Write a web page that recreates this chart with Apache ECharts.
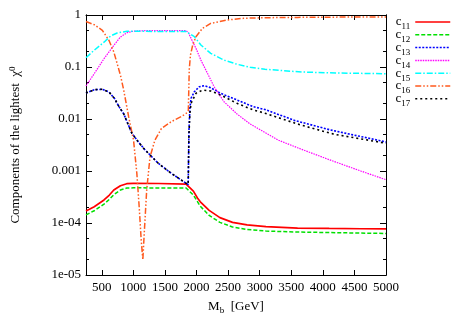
<!DOCTYPE html>
<html><head><meta charset="utf-8">
<script src="https://cdn.jsdelivr.net/npm/echarts@6/dist/echarts.min.js"></script>
<style>html,body{margin:0;padding:0;background:#fff}#c{width:467px;height:327px}</style>
</head><body><div id="c"></div>
<script>
// ---------- data ----------
const seriesNames = ['c11','c12','c13','c14','c15','c16','c17'];
const xTicks = [500,1000,1500,2000,2500,3000,3500,4000,4500,5000];
const yTickValues = [1e-5,1e-4,1e-3,1e-2,1e-1,1];
const yTickLabels = ['1e-05','1e-04','0.001','0.01','0.1','1'];
const yMinorTicks = [2e-5,5e-5,2e-4,5e-4,2e-3,5e-3,2e-2,5e-2,0.2,0.5];

const c11 = [[250,1.7e-4],[380,2.06e-4],[535,2.77e-4],[620,3.45e-4],[690,4.3e-4],[795,5.2e-4],[895,5.7e-4],[1000,5.8e-4],[1400,5.75e-4],[1835,5.6e-4],[1865,5.5e-4],[1950,4.1e-4],[2017,3.0e-4],[2060,2.55e-4],[2200,1.75e-4],[2370,1.27e-4],[2570,1.03e-4],[2800,9.2e-5],[3100,8.5e-5],[3600,8.0e-5],[4100,7.85e-5],[4600,7.75e-5],[5000,7.7e-5]];
const c12 = [[250,1.43e-4],[380,1.72e-4],[535,2.3e-4],[620,2.85e-4],[690,3.5e-4],[795,4.3e-4],[895,4.7e-4],[1000,4.75e-4],[1835,4.7e-4],[1865,4.65e-4],[1950,3.45e-4],[2017,2.55e-4],[2060,2.1e-4],[2200,1.4e-4],[2370,1.03e-4],[2570,8.4e-5],[2800,7.5e-5],[3100,7.0e-5],[3600,6.7e-5],[4100,6.55e-5],[4600,6.4e-5],[5000,6.3e-5]];
const c13 = [[250,0.0316],[380,0.0366],[509,0.0373],[613,0.0331],[700,0.025],[770,0.0175],[848,0.0125],[977,0.0053],[1080,0.0036],[1186,0.00254],[1393,1.41e-3],[1601,9.0e-4],[1835,5.8e-4],[1868,5.5e-4],[1880,0.006],[1895,0.016],[1913,0.025],[1966,0.0335],[2044,0.0418],[2122,0.0437],[2225,0.040],[2381,0.0312],[2641,0.0232],[2902,0.0172],[3083,0.0152],[3563,0.0093],[4110,0.0062],[4890,0.00386],[5000,0.0036]];
const c14 = [[250,0.0431],[380,0.0743],[535,0.1445],[691,0.261],[796,0.378],[899,0.457],[1003,0.49],[1200,0.50],[1835,0.50],[1870,0.46],[1913,0.356],[1991,0.229],[2069,0.136],[2173,0.0757],[2278,0.0418],[2434,0.0215],[2641,0.0125],[2849,0.0080],[3083,0.0055],[3300,0.0039],[3600,0.0028],[4100,0.00165],[4600,0.00100],[5000,0.00068]];
const c15 = [[250,0.151],[380,0.21],[535,0.30],[640,0.395],[743,0.45],[899,0.486],[1200,0.485],[1835,0.48],[1862,0.477],[1966,0.383],[2069,0.265],[2225,0.183],[2434,0.136],[2641,0.113],[2849,0.0986],[3083,0.0903],[3680,0.080],[4200,0.0767],[5000,0.0743]];
const c16 = [[250,0.75],[380,0.65],[509,0.508],[613,0.326],[691,0.194],[796,0.069],[847,0.036],[925,0.0111],[1003,0.0039],[1055,9.0e-4],[1092,2.06e-4],[1124,4.7e-5],[1150,1.95e-5],[1175,7.3e-5],[1211,4.3e-4],[1264,1.88e-3],[1342,3.95e-3],[1445,6.6e-3],[1601,8.9e-3],[1757,0.0111],[1851,0.0132],[1870,0.0145],[1885,0.09],[1904,0.17],[1940,0.265],[1991,0.383],[2095,0.555],[2225,0.69],[2486,0.80],[2746,0.865],[3083,0.887],[3600,0.90],[4200,0.91],[5000,0.916]];
const c17 = [[250,0.0316],[380,0.0366],[509,0.0373],[613,0.0331],[700,0.025],[770,0.0175],[848,0.0125],[977,0.0053],[1080,0.0036],[1186,0.00254],[1393,1.41e-3],[1601,9.0e-4],[1835,5.8e-4],[1868,5.5e-4],[1880,0.005],[1895,0.013],[1913,0.020],[1991,0.0312],[2095,0.036],[2225,0.0345],[2381,0.029],[2641,0.020],[2902,0.0149],[3083,0.0129],[3630,0.0078],[4175,0.0051],[4950,0.0035],[5000,0.0034]];

const seriesData = [c11,c12,c13,c14,c15,c16,c17];
const colors = ['#ff0000','#00e000','#0000ff','#ff00ff','#00ffff','#ff5a1e','#000000'];
const dashes = ['solid',[4,2],[2,1.5],[1.5,1],[6,2,1.5,2],[6,2,1.5,2,1.5,2],[2,3]];
const widths = [1.7,1.5,1.6,1.2,1.5,1.5,1.6];

// ---------- chart ----------
const FONT = 'Liberation Serif';
const chart = echarts.init(document.getElementById('c'), null, {renderer:'canvas'});
const axisLine = {show:true, lineStyle:{color:'#000', width:1}};
const tickStyle = {color:'#000', width:1};

function yAxisDef(pos, ticks, len, withLabels){
  return {
    type:'log', logBase:10, min:1e-5, max:1, position:pos,
    axisLine: withLabels!==null ? axisLine : {show:false},
    axisTick:{show:true, inside:true, length:len, customValues:ticks, lineStyle:tickStyle},
    axisLabel: withLabels ? {show:true, margin:5, color:'#000', fontFamily:FONT, fontSize:13,
      formatter: v => yTickLabels[Math.round(Math.log10(v))+5]} : {show:false},
    splitLine:{show:false}, minorTick:{show:false}
  };
}
const yAxes = [
  Object.assign(yAxisDef('left', yTickValues, 6, true), {
    name:'Components of the lightest  χ{sup|0}', nameLocation:'middle', nameGap:62, nameRotate:90,
    nameTextStyle:{color:'#000', fontFamily:FONT, fontSize:13, lineHeight:16,
      rich:{sup:{fontFamily:FONT, fontSize:9, verticalAlign:'top', lineHeight:9, color:'#000'}}}
  }),
  yAxisDef('left', yMinorTicks, 3, false),
  yAxisDef('right', yTickValues, 6, false),
  yAxisDef('right', yMinorTicks, 3, false)
];

const option = {
  animation:false,
  backgroundColor:'#fff',
  grid:{left:81, right:81, top:15, bottom:52, containLabel:false},
  legend:{
    orient:'vertical', right:16, top:12.5, padding:0, align:'right',
    itemWidth:35, itemHeight:10, itemGap:-6.2,
    itemStyle:{opacity:0},
    lineStyle:{width:1.5},
    data: seriesNames,
    formatter: n => 'c{s|' + n.slice(1) + '}',
    textStyle:{color:'#000', fontFamily:FONT, fontSize:13, lineHeight:19,
      rich:{s:{fontFamily:FONT, fontSize:9, lineHeight:9, padding:[10,0,0,0], verticalAlign:'top', color:'#000'}}}
  },
  xAxis:[
    {type:'value', min:250, max:5000, position:'bottom',
     name:'M{s|b}  [GeV]', nameLocation:'middle', nameGap:24,
     nameTextStyle:{color:'#000', fontFamily:FONT, fontSize:13, lineHeight:16,
       rich:{s:{fontFamily:FONT, fontSize:9, lineHeight:9, verticalAlign:'bottom', color:'#000'}}},
     axisLine:axisLine,
     axisTick:{show:true, inside:true, length:5, customValues:xTicks, lineStyle:tickStyle},
     axisLabel:{show:true, customValues:xTicks, margin:6, color:'#000', fontFamily:FONT, fontSize:13,
       formatter: v => String(v)},
     splitLine:{show:false}},
    {type:'value', min:250, max:5000, position:'top',
     axisLine:axisLine,
     axisTick:{show:true, inside:true, length:5, customValues:xTicks, lineStyle:tickStyle},
     axisLabel:{show:false}, splitLine:{show:false}}
  ],
  yAxis: yAxes,
  series: seriesNames.map((n,i) => ({
    type:'line', name:n, data:seriesData[i], xAxisIndex:0, yAxisIndex:0,
    symbol:'none', showSymbol:false, z:2+i,
    lineStyle:{color:colors[i], width:widths[i], type:dashes[i]},
    itemStyle:{color:colors[i]}
  }))
};
chart.setOption(option);
</script></body></html>
